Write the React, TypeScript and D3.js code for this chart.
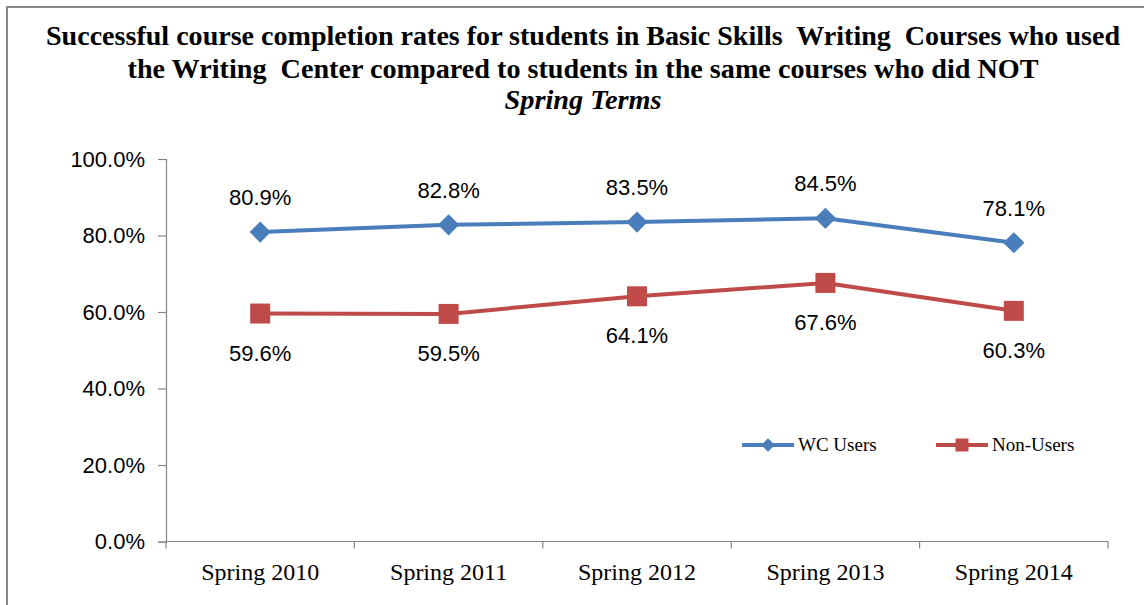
import { useEffect, useRef } from "react";
import * as d3 from "d3";

const terms = ["Spring 2010", "Spring 2011", "Spring 2012", "Spring 2013", "Spring 2014"];
const wcUsers = [80.9, 82.8, 83.5, 84.5, 78.1];
const nonUsers = [59.6, 59.5, 64.1, 67.6, 60.3];
const yTicks = [0, 20, 40, 60, 80, 100];
const titleLines = [
  "Successful course completion rates for students in Basic Skills  Writing  Courses who used",
  "the Writing  Center compared to students in the same courses who did NOT",
];
const titleWidths = [1074, 911];
const subTitle = "Spring Terms";

const W = 1144;
const H = 605;
const BLUE = "#4A7EBB";
const RED = "#BE4B48";
const SERIF = "Liberation Serif";
const SANS = "Liberation Sans";

const App = () => {
  const ref = useRef<SVGSVGElement>(null);

  useEffect(() => {
    const svg = d3.select(ref.current);
    svg.selectAll("*").remove();

    const plot = { left: 166, right: 1108, top: 159, bottom: 541.5 };

    // chart frame
    svg
      .append("rect")
      .attr("x", 7)
      .attr("y", 7)
      .attr("width", 1160)
      .attr("height", 640)
      .attr("fill", "white")
      .attr("stroke", "#878787")
      .attr("stroke-width", 2);

    const x = d3.scaleBand().domain(terms).range([plot.left, plot.right]);
    const y = d3.scaleLinear().domain([0, 100]).range([plot.bottom, plot.top]);

    // title
    titleLines.forEach((t, i) => {
      svg
        .append("text")
        .attr("x", 583)
        .attr("y", 45 + i * 33)
        .attr("text-anchor", "middle")
        .attr("textLength", titleWidths[i])
        .attr("lengthAdjust", "spacingAndGlyphs")
        .style("font-family", SERIF)
        .style("font-weight", "bold")
        .style("font-size", "28px")
        .style("white-space", "pre")
        .attr("fill", "#000")
        .text(t);
    });
    svg
      .append("text")
      .attr("x", 583)
      .attr("y", 109)
      .attr("text-anchor", "middle")
      .attr("textLength", 157)
      .attr("lengthAdjust", "spacingAndGlyphs")
      .style("font-family", SERIF)
      .style("font-weight", "bold")
      .style("font-style", "italic")
      .style("font-size", "28px")
      .attr("fill", "#000")
      .text(subTitle);

    // y axis
    const yAxis = svg
      .append("g")
      .attr("transform", `translate(${plot.left},0)`)
      .call(
        d3
          .axisLeft(y)
          .tickValues(yTicks)
          .tickSize(8)
          .tickPadding(13)
          .tickFormat((d) => `${(+d).toFixed(1)}%`)
      );
    yAxis.select(".domain").attr("stroke", "#868686").attr("stroke-width", 1.2);
    yAxis.selectAll(".tick line").attr("stroke", "#868686").attr("stroke-width", 1.2);
    yAxis
      .selectAll(".tick text")
      .style("font-family", SANS)
      .style("font-size", "22px")
      .attr("fill", "#000");

    // x axis with ticks between categories
    const xg = svg.append("g");
    xg.append("line")
      .attr("x1", plot.left)
      .attr("x2", plot.right)
      .attr("y1", plot.bottom)
      .attr("y2", plot.bottom)
      .attr("stroke", "#868686")
      .attr("stroke-width", 1.2);
    const bounds = terms.map((t) => x(t)!).concat([plot.right]);
    xg.selectAll(".xt")
      .data(bounds)
      .enter()
      .append("line")
      .attr("x1", (d) => d)
      .attr("x2", (d) => d)
      .attr("y1", plot.bottom)
      .attr("y2", plot.bottom + 7)
      .attr("stroke", "#868686")
      .attr("stroke-width", 1.2);
    xg.selectAll(".xl")
      .data(terms)
      .enter()
      .append("text")
      .attr("x", (d) => x(d)! + x.bandwidth() / 2)
      .attr("y", 580)
      .attr("text-anchor", "middle")
      .style("font-family", SERIF)
      .style("font-size", "24px")
      .attr("fill", "#000")
      .text((d) => d);

    const cx = (i: number) => x(terms[i])! + x.bandwidth() / 2;
    const line = d3
      .line<number>()
      .x((_, i) => cx(i))
      .y((d) => y(d));

    // diamond = square turned 45deg
    const series = [
      { name: "WC Users", data: wcUsers, color: BLUE, size: 225, rot: 45, dy: -27 },
      { name: "Non-Users", data: nonUsers, color: RED, size: 400, rot: 0, dy: 47 },
    ];

    series.forEach((s) => {
      svg
        .append("path")
        .datum(s.data)
        .attr("d", line)
        .attr("fill", "none")
        .attr("stroke", s.color)
        .attr("stroke-width", 4)
        .attr("stroke-linejoin", "round");
      svg
        .selectAll(null)
        .data(s.data)
        .enter()
        .append("path")
        .attr("d", d3.symbol().type(d3.symbolSquare).size(s.size)())
        .attr("transform", (d, i) => `translate(${cx(i)},${y(d)}) rotate(${s.rot})`)
        .attr("fill", s.color);
      svg
        .selectAll(null)
        .data(s.data)
        .enter()
        .append("text")
        .attr("x", (_, i) => cx(i))
        .attr("y", (d) => y(d) + s.dy)
        .attr("text-anchor", "middle")
        .style("font-family", SANS)
        .style("font-size", "22px")
        .attr("fill", "#000")
        .text((d) => `${d.toFixed(1)}%`);
    });

    // legend
    const legendX = [742, 936];
    series.forEach((s, i) => {
      const g = svg.append("g").attr("transform", `translate(${legendX[i]},445)`);
      g.append("line")
        .attr("x1", 0)
        .attr("x2", 52)
        .attr("stroke", s.color)
        .attr("stroke-width", 4);
      g.append("path")
        .attr("d", d3.symbol().type(d3.symbolSquare).size(s.size * 0.42)())
        .attr("transform", `translate(26,0) rotate(${s.rot})`)
        .attr("fill", s.color);
      g.append("text")
        .attr("x", 56)
        .attr("y", 6)
        .style("font-family", SERIF)
        .style("font-size", "19px")
        .attr("fill", "#000")
        .text(s.name);
    });
  }, []);

  return (
    <div style={{ position: "fixed", left: 0, top: 0, width: W, height: H, background: "white" }}>
      <svg ref={ref} width={W} height={H} />
    </div>
  );
};

export default App;
